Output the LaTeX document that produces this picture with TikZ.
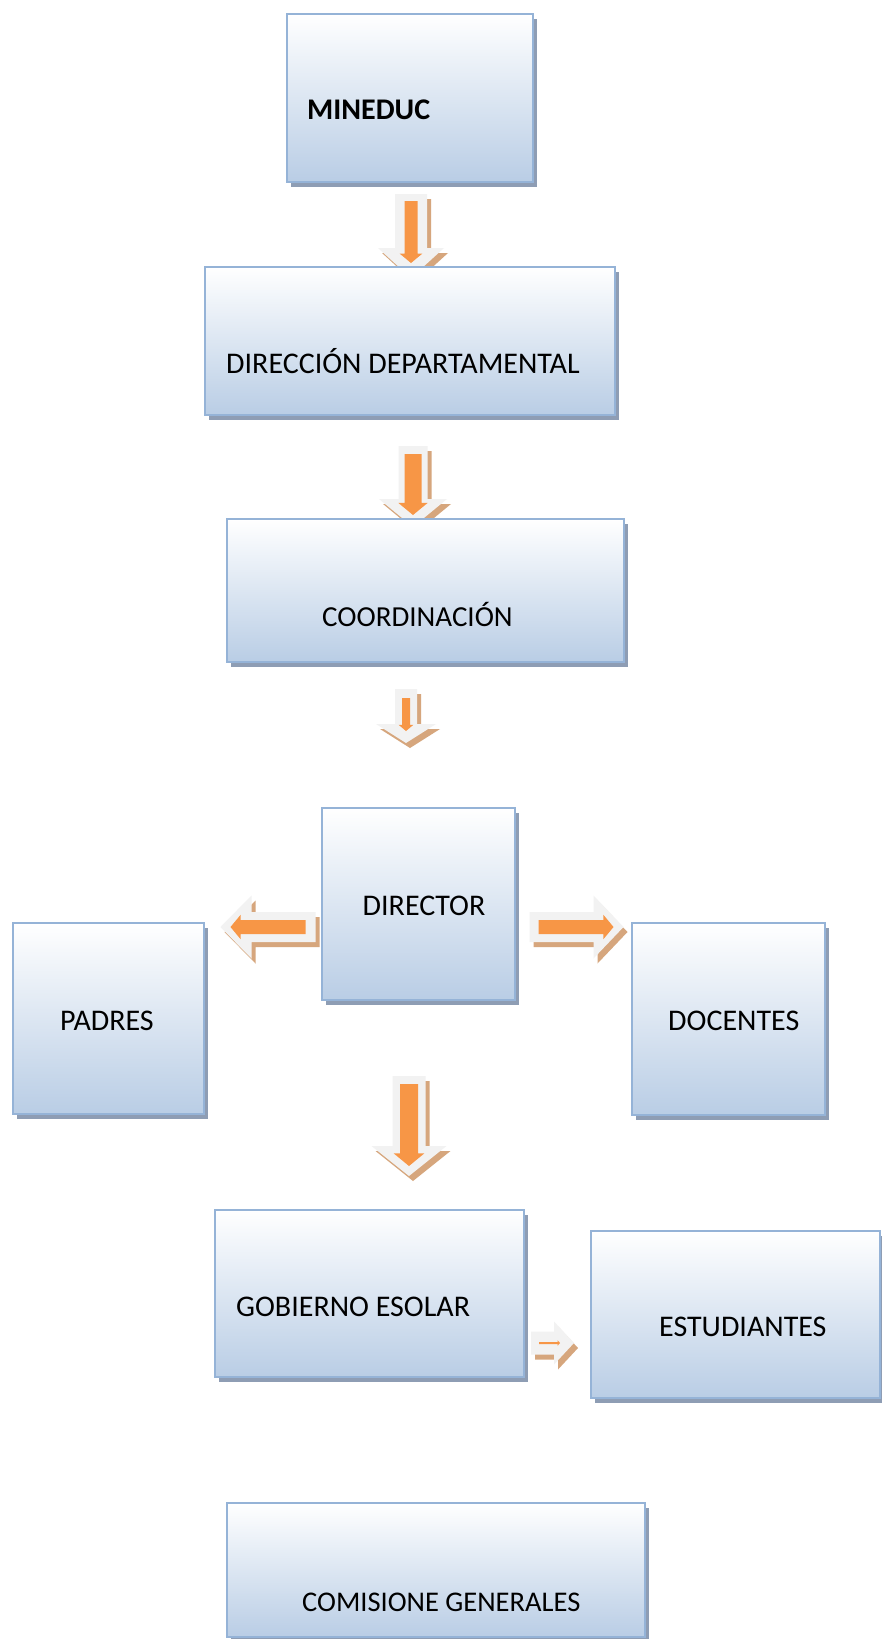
\documentclass[tikz,border=0pt]{standalone}
\usepackage{fontspec}
\setmainfont{Carlito}
\usetikzlibrary{calc,shadows}

\definecolor{boxline}{RGB}{149,179,215}
\definecolor{boxblue}{RGB}{185,205,229}
\definecolor{boxshadow}{RGB}{142,157,180}
\definecolor{arrowgrey}{RGB}{242,242,242}
\definecolor{arrowbrown}{RGB}{214,166,125}
\definecolor{arroworange}{RGB}{247,150,70}

\pgfdeclarelayer{back}
\pgfsetlayers{back,main}

% #1 tail, #2 angle, #3 length, #4 shaft, #5 head, #6 head length,
% #7 orange start, #8 orange tip, #9 orange shaft
\newcommand{\blockarrow}[9]{%
  \pgfmathsetmacro{\ohw}{1.6*#9+1}%
  \pgfmathsetmacro{\ohl}{1.3*#9+1}%
  \begin{scope}[shift={#1},shift={(4,5)},rotate=#2]
    \fill[arrowbrown] (-#4,0) -- (#4,0) -- (#4,#3-#6) -- (#5,#3-#6) -- (0,#3)
      -- (-#5,#3-#6) -- (-#4,#3-#6) -- cycle;
  \end{scope}
  \begin{scope}[shift={#1},rotate=#2]
    \fill[arrowgrey] (-#4,0) -- (#4,0) -- (#4,#3-#6) -- (#5,#3-#6) -- (0,#3)
      -- (-#5,#3-#6) -- (-#4,#3-#6) -- cycle;
    \fill[arroworange] (-#9,#7) -- (#9,#7) -- (#9,#8-\ohl) -- (\ohw,#8-\ohl)
      -- (0,#8) -- (-\ohw,#8-\ohl) -- (-#9,#8-\ohl) -- cycle;
  \end{scope}}

\begin{document}
\begin{tikzpicture}[
    x=1pt,y=-1pt,
    orgbox/.style={draw=boxline,line width=2pt,top color=white,middle color=boxblue!30,
      bottom color=boxblue,inner sep=0pt,
      drop shadow={shadow xshift=4pt,shadow yshift=-5pt,fill=boxshadow,opacity=1}},
    boxtext/.style={anchor=base west,inner sep=0pt,font=\fontsize{30}{36}\selectfont}
    ]

    \useasboundingbox (0,0) rectangle (882,1639);

    % boxes
    \node[orgbox,minimum width=246,minimum height=168] (mineduc) at (410,98) {};
    \node[orgbox,minimum width=410,minimum height=148] (direccion) at (410,341) {};
    \node[orgbox,minimum width=397,minimum height=143] (coord) at (425.5,590.5) {};
    \node[orgbox,minimum width=193,minimum height=192] (director) at (418,904) {};
    \node[orgbox,minimum width=191,minimum height=191] (padres) at (108.5,1018.5) {};
    \node[orgbox,minimum width=193,minimum height=192] (docentes) at (728.5,1019) {};
    \node[orgbox,minimum width=309,minimum height=167] (gobierno) at (369.5,1293.5) {};
    \node[orgbox,minimum width=289,minimum height=167] (estudiantes) at (735.5,1314.5) {};
    \node[orgbox,minimum width=418,minimum height=134] (comision) at (436,1570) {};

    % texts
    \node[boxtext,font=\fontsize{30}{36}\selectfont\bfseries] (mineduc-t)
      at ($(mineduc.north west)+(21,106)$) {MINEDUC};
    \node[boxtext] (direccion-t) at ($(direccion.north west)+(22,107)$) {DIRECCIÓN DEPARTAMENTAL};
    \node[boxtext,font=\fontsize{29}{35}\selectfont] (coord-t)
      at ($(coord.north west)+(96,108)$) {COORDINACIÓN};
    \node[boxtext] (director-t) at ($(director.north west)+(42,108)$) {DIRECTOR};
    \node[boxtext] (padres-t) at ($(padres.north west)+(48,108)$) {PADRES};
    \node[boxtext] (docentes-t) at ($(docentes.north west)+(37,108)$) {DOCENTES};
    \node[boxtext] (gobierno-t) at ($(gobierno.north west)+(22,107)$) {GOBIERNO ESOLAR};
    \node[boxtext] (estudiantes-t) at ($(estudiantes.north west)+(69,106)$) {ESTUDIANTES};
    \node[boxtext,font=\fontsize{28.5}{34}\selectfont] (comision-t)
      at ($(comision.north west)+(76,109)$) {COMISIONE GENERALES};

    % block arrows
    \begin{pgfonlayer}{back}
      \fill[white] (0,0) rectangle (882,1639);
      \blockarrow{($(mineduc.south)+(1,11)$)}{0}{84}{16}{33}{30}{7}{69}{6.5}
      \blockarrow{($(direccion.south)+(3,30)$)}{0}{81}{14.5}{34}{28}{8}{69}{8.5}
      \blockarrow{($(coord.south)+(-19.5,26)$)}{0}{54}{11}{30}{19}{9}{42}{4}
      \blockarrow{($(director.south)+(-9,75)$)}{0}{100}{16.5}{37.5}{30}{8}{90}{9}
      \blockarrow{($(director.west)+(-5,23)$)}{-90}{95}{15}{31.5}{31}{10}{85}{7}
      \blockarrow{($(director.east)+(14,23)$)}{90}{94}{15}{31.5}{30}{9}{84}{7}
      \blockarrow{($(gobierno.east)+(6,49.5)$)}{90}{43}{11.5}{21.5}{20}{8}{29}{1}
    \end{pgfonlayer}
  \end{tikzpicture}
\end{document}
